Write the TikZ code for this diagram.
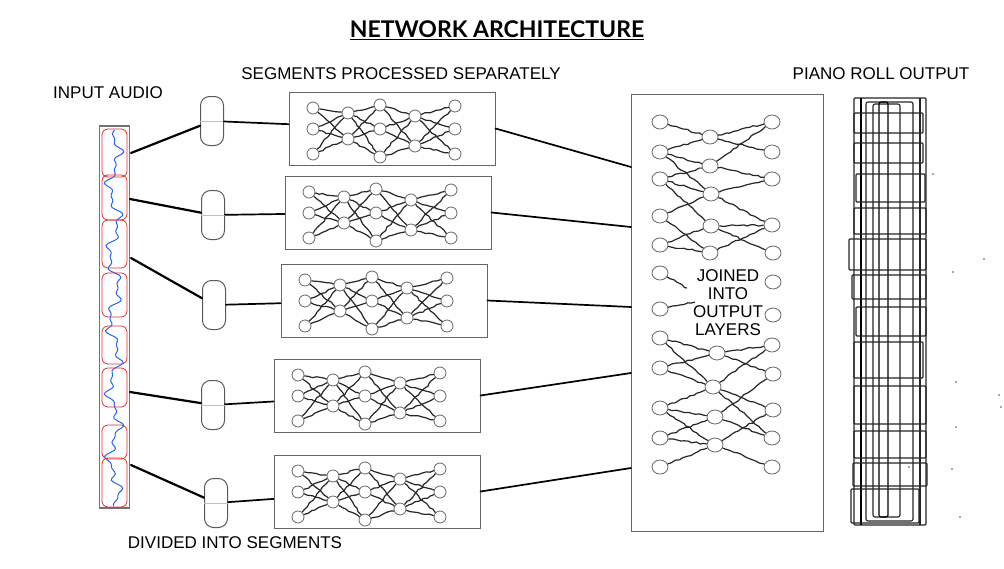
\documentclass[tikz,border=0pt]{standalone}
\usepackage{fontspec}
\setmainfont{Liberation Sans}
\newfontfamily\headfamily{Lato}
\usetikzlibrary{shapes.geometric,decorations.pathmorphing}
\definecolor{wavecol}{RGB}{40,100,240}
\definecolor{segred}{RGB}{235,45,45}

\begin{document}
\begin{tikzpicture}[x=1pt,y=-1pt]
    \useasboundingbox[fill=white] (0,0) rectangle (1004,568);
    \pgfmathsetseed{11}

    \tikzstyle{caption}=[font=\fontsize{17}{18}\selectfont, inner sep=0pt]
    \tikzstyle{heading}=[font=\headfamily\bfseries\fontsize{23}{26}\selectfont, inner sep=0pt]
    \tikzstyle{audiostrip}=[draw=black!55, line width=1.2pt, minimum width=30pt, minimum height=382pt, inner sep=0pt]
    \tikzstyle{cut}=[draw=segred, line width=0.8pt, rounded corners=6pt]
    \tikzstyle{pill}=[draw=black!65, line width=1pt, rounded corners=9pt, minimum width=23pt, minimum height=49pt, inner sep=0pt]
    \tikzstyle{segbox}=[draw=black!60, line width=1pt, minimum width=206pt, minimum height=73pt, inner sep=0pt]
    \tikzstyle{segunit}=[circle, draw=black!60, line width=0.8pt, fill=white, minimum size=12pt, inner sep=0pt]
    \tikzstyle{outbox}=[draw=black!60, line width=1pt, minimum width=192pt, minimum height=437pt, inner sep=0pt]
    \tikzstyle{outunit}=[ellipse, draw=black!60, line width=0.8pt, fill=white, minimum width=16pt, minimum height=14pt, inner sep=0pt]
    \tikzstyle{wire}=[draw=black!85, line width=1.2pt, decorate, decoration={random steps, segment length=4pt, amplitude=0.9pt}]
    \tikzstyle{feed}=[draw=black, line width=2.2pt, line cap=round]
    \tikzstyle{faint}=[draw=black!25, line width=0.8pt]
    \tikzstyle{roll}=[draw=black!85, line width=1.1pt]

    % labels
    \node[heading] (title) at (497,30) {\underline{NETWORK ARCHITECTURE}};
    \node[caption] (inl)  at (108,93)  {INPUT AUDIO};
    \node[caption] (segl) at (401,74)  {SEGMENTS PROCESSED SEPARATELY};
    \node[caption] (pnl)  at (881,74)  {PIANO ROLL OUTPUT};
    \node[caption] (divl) at (235,543) {DIVIDED INTO SEGMENTS};

    % input audio
    \node[audiostrip] (audio) at (114.5,317) {};
    \draw[wavecol, line width=1pt] plot[domain=130:506, samples=190]
        ({114 + 5*sin(5.3*\x) + 3*sin(17*\x+40) + 2*sin(29*\x+10)}, \x);
    \foreach \ya/\yb in {129/177, 175/220, 220/268, 273/317, 326/364, 368/407, 425/459, 458/507}
        \draw[cut] (102,\ya) rectangle (127,\yb);

    \coordinate (s1) at (131,153);
    \coordinate (s2) at (130,199);
    \coordinate (s3) at (131,258);
    \coordinate (s4) at (130,392);
    \coordinate (s5) at (131,465);

    % segments
    \node[pill] (p1) at (212,121) {};
    \node[pill] (p2) at (213,215) {};
    \node[pill] (p3) at (214,305) {};
    \node[pill] (p4) at (213,405) {};
    \node[pill] (p5) at (216,503) {};

    % per segment networks
    \foreach \i/\ox/\oy in {1/289/92, 2/285/176, 3/281/264, 4/274/359, 5/274/455} {
        \node[segbox] (box\i) at (\ox+103,\oy+36.5) {};
        \foreach \r/\y in {1/16, 2/37, 3/62}  \node[segunit] (n\i-1-\r) at (\ox+24,\oy+\y) {};
        \foreach \r/\y in {1/21, 2/47}        \node[segunit] (n\i-2-\r) at (\ox+59,\oy+\y) {};
        \foreach \r/\y in {1/13, 2/37, 3/65}  \node[segunit] (n\i-3-\r) at (\ox+91,\oy+\y) {};
        \foreach \r/\y in {1/24, 2/54}        \node[segunit] (n\i-4-\r) at (\ox+126,\oy+\y) {};
        \foreach \r/\y in {1/14, 2/37, 3/62}  \node[segunit] (n\i-5-\r) at (\ox+166,\oy+\y) {};
        \foreach \a in {1,2,3} \foreach \b in {1,2} {
            \draw[wire] (n\i-1-\a) -- (n\i-2-\b);
            \draw[wire] (n\i-3-\a) -- (n\i-2-\b);
            \draw[wire] (n\i-3-\a) -- (n\i-4-\b);
            \draw[wire] (n\i-5-\a) -- (n\i-4-\b);
        }
    }

    % output network
    \node[outbox] (out) at (727,312.5) {};
    \coordinate (j1) at (631,167);
    \coordinate (j2) at (631,227);
    \coordinate (j3) at (631,307);
    \coordinate (j4) at (631,373);
    \coordinate (j5) at (631,468);
    \coordinate (d1) at (687,288);
    \coordinate (d2) at (695,302);

    \foreach \r/\y in {1/122, 2/152, 3/179, 4/216, 5/245, 6/273, 7/309, 8/338, 9/368, 10/408, 11/438, 12/467}
        \node[outunit] (L\r) at (660,\y) {};
    \foreach \r/\x/\y in {1/710/137, 2/710/166, 3/711/194, 4/711/226, 5/710/253, 6/717/353, 7/713/387, 8/715/417, 9/715/445}
        \node[outunit] (M\r) at (\x,\y) {};
    \foreach \r/\x/\y in {1/772/122, 2/772/152, 3/772/179, 4/772/225, 5/773/253, 6/773/282, 7/773/315, 8/772/345, 9/773/374, 10/773/410, 11/772/438, 12/772/467}
        \node[outunit] (R\r) at (\x,\y) {};

    \foreach \a/\b in {1/1, 2/1, 2/2, 2/3, 3/2, 3/3, 3/4, 4/3, 4/5, 5/4, 5/5, 8/6, 8/7, 9/6, 9/7, 10/7, 10/8, 10/9, 11/8, 11/9, 12/9}
        \draw[wire] (L\a) -- (M\b);
    \foreach \a/\b in {1/1, 1/2, 2/1, 2/3, 3/3, 3/4, 4/4, 4/5, 5/4, 6/8, 6/9, 7/8, 7/10, 7/11, 8/9, 8/11, 9/10, 9/12}
        \draw[wire] (M\a) -- (R\b);
    \draw[wire] (L6) -- (d1);
    \draw[wire] (L7) -- (d2);

    \node[caption, align=center] (join) at (728,303) {JOINED\\INTO\\OUTPUT\\LAYERS};

    % connectors
    \draw[feed] (s1) -- (p1);
    \draw[feed] (s2) -- (p2);
    \draw[feed] (s3) -- (p3);
    \draw[feed] (s4) -- (p4);
    \draw[feed] (s5) -- (p5);
    \draw[faint] (p1.west) -- (p1.east);
    \draw[faint] (p2.west) -- (p2.east);
    \draw[faint] (p4.west) -- (p4.east);
    \draw[faint] (p5.west) -- (p5.east);
    \foreach \i in {1,...,5} {
        \draw[feed, line width=1.7pt] (p\i) -- (box\i);
        \draw[feed, line width=1.7pt] (box\i.east) -- (j\i);
    }

    % piano roll
    \draw[roll, rounded corners=1pt] (854,98) rectangle (926,525);
    \draw[roll, rounded corners=2pt] (866,102) rectangle (913,521);
    \draw[roll, rounded corners=2pt] (873,104) rectangle (900,517);
    \draw[roll, draw=black, rounded corners=2pt] (879,102) rectangle (888,517);
    \draw[roll, draw=black] (861,98) -- (861,525);
    \draw[roll] (920,98) -- (920,525);
    \foreach \xa/\ya/\xb/\yb in {854/113/923/133, 854/143/923/163, 856/174/925/202, 854/208/926/234,
                                 849/239/926/270, 852/275/926/299, 856/307/926/336, 854/342/923/378,
                                 854/386/926/424, 854/431/926/458, 853/463/927/486, 851/489/919/523}
        \draw[roll, rounded corners=1pt] (\xa,\ya) rectangle (\xb,\yb);
    \foreach \x/\y in {933/174, 984/259, 953/272, 956/382, 999/395, 1001/407, 956/427, 952/469, 960/517, 909/467}
        \fill[black!70] (\x,\y) circle (0.9);

\end{tikzpicture}
\end{document}
